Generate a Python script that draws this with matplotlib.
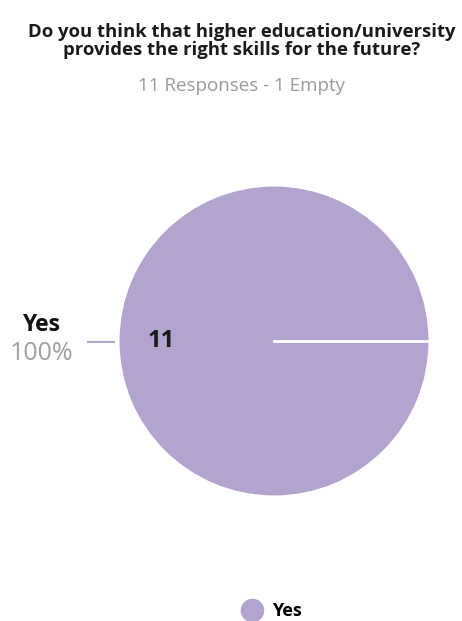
import numpy as np
import matplotlib.pyplot as plt

# ------------ data
question = 'Do you think that higher education/university\nprovides the right skills for the future?'
subtitle = '11 Responses - 1 Empty'
labels = ['Yes']
counts = [11]
pie_color = '#b3a4cf'

total = sum(counts)
pcts = [100 * c / total for c in counts]

W, H = 462, 621
plt.rcParams['font.family'] = ['Open Sans', 'DejaVu Sans']
fig = plt.figure(figsize=(W / 100, H / 100), dpi=100, facecolor='white')

fig.text(0.523, 1 - 23 / H, question, ha='center', va='top', fontsize=13.3,
         fontweight='bold', color='#1a1a1a', linespacing=0.97)
fig.text(0.522, 1 - 86 / H, subtitle, ha='center', va='center', fontsize=13.5,
         color='#9a9a9a')

# ------------ pie
cx, cy, r = 274, 341, 156
ax = fig.add_axes([(cx - r) / W, (H - cy - r) / H, 2 * r / W, 2 * r / H])
ax.pie(counts, colors=[pie_color], startangle=0, counterclock=True,
       radius=1, wedgeprops=dict(linewidth=0))
# wedge boundary of the single slice
ax.plot([0, 1], [0, 0], color='white', linewidth=2)
ax.set_xlim(-1.01, 1.01)
ax.set_ylim(-1.01, 1.01)
ax.set_aspect('auto')
ax.axis('off')

# count label inside the slice
ax.text(-0.73, 0.0, str(counts[0]), ha='center', va='center', fontsize=17,
        fontweight='bold', color='#1a1a1a')

# outside label + leader
fig.text(41.5 / W, 1 - 325 / H, labels[0], ha='center', va='center', fontsize=16.5,
         fontweight='bold', color='#111111')
fig.text(41 / W, 1 - 354 / H, f'{pcts[0]:.0f}%', ha='center', va='center',
         fontsize=18, color='#a0a0a0')
fig.add_artist(plt.Line2D([88 / W, 114 / W], [1 - 342 / H, 1 - 342 / H],
                          color=pie_color, linewidth=1.5))

# legend
fig.legend(handles=[plt.Line2D([], [], marker='o', linestyle='', markersize=16,
                               markerfacecolor=pie_color, markeredgecolor=pie_color)],
           labels=labels, loc='center', bbox_to_anchor=((cx - 6) / W, 1 - 611 / H),
           frameon=False, handletextpad=0.1, prop=dict(weight='bold', size=13))

plt.savefig('out.png', dpi=100, facecolor='white')
